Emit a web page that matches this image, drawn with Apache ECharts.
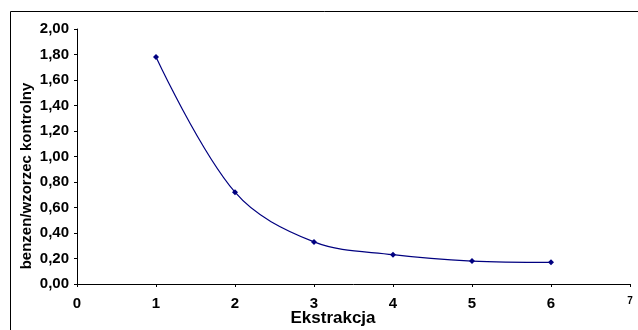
<!DOCTYPE html>
<html><head><meta charset="utf-8">
<script src="https://cdn.jsdelivr.net/npm/echarts@6/dist/echarts.min.js"></script>
<style>html,body{margin:0;padding:0;background:#fff}#c{width:638px;height:330px}</style>
</head><body><div id="c"></div>
<script>
const extractions = [1, 2, 3, 4, 5, 6];
const ratios = [1.78, 0.72, 0.33, 0.23, 0.18, 0.17];
const xTicks = [0, 1, 2, 3, 4, 5, 6, 7];
const xTitle = 'Ekstrakcja';
const yTitle = 'benzen/wzorzec kontrolny';

const chart = echarts.init(document.getElementById('c'));
const font = '"Liberation Sans", Arial, sans-serif';
chart.setOption({
  animation: false,
  graphic: [
    {type:'rect', shape:{x:10.5,y:11.5,width:700,height:400}, style:{fill:'none', stroke:'#000', lineWidth:1}, silent:true},
    {type:'text', x:333, y:318, style:{text:xTitle, font:'bold 17px ' + font, fill:'#000', align:'center', verticalAlign:'middle'}},
    {type:'text', x:27, y:176, rotation:Math.PI/2, style:{text:yTitle, font:'bold 15px ' + font, fill:'#000', align:'center', verticalAlign:'middle'}}
  ],
  grid: {left: 77, right: 8, top: 29, bottom: 46},
  xAxis: {
    type: 'value', min: 0, max: 7, interval: 1,
    axisLine: {lineStyle: {color: '#000', width: 1}},
    axisTick: {show: true, length: 3, inside: false, lineStyle: {color:'#000'}},
    splitLine: {show: false},
    axisLabel: {fontFamily: font, fontWeight: 'bold', fontSize: 15, color: '#000', margin: 12,
      formatter: v => v === 7 ? '{s|7}' : String(v),
      rich: {s: {fontSize: 10, fontWeight: 'bold', fontFamily: font, color:'#000', verticalAlign:'top', padding:[0,0,10,0]}}}
  },
  yAxis: {
    type: 'value', min: 0, max: 2, interval: 0.2,
    axisLine: {show: true, lineStyle: {color: '#000', width: 1}},
    axisTick: {show: true, length: 3, lineStyle: {color:'#000'}},
    splitLine: {show: false},
    axisLabel: {fontFamily: font, fontWeight: 'bold', fontSize: 15, color: '#000', margin: 8,
      formatter: v => v.toFixed(2).replace('.', ',')}
  },
  series: [{
    type: 'line', smooth: 0.35,
    data: extractions.map((x, i) => [x, ratios[i]]),
    symbol: 'diamond', symbolSize: 6,
    lineStyle: {color: '#000080', width: 1.2},
    itemStyle: {color: '#000080'}
  }]
});
</script></body></html>
